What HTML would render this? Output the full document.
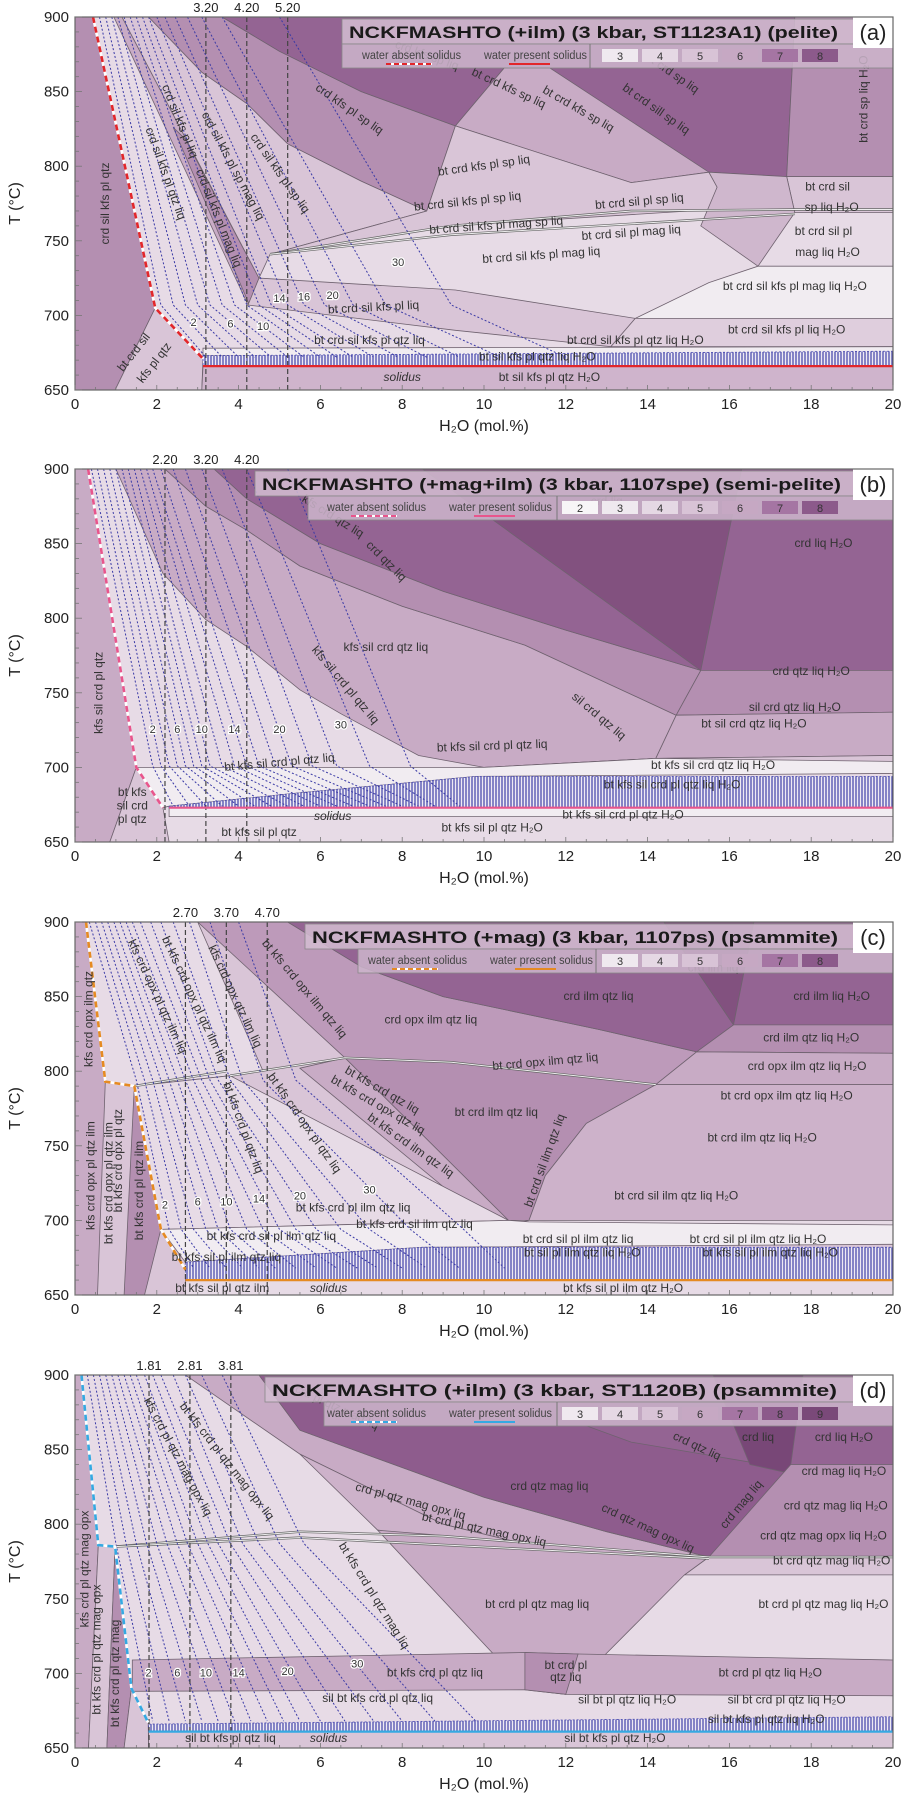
<!DOCTYPE html>
<html><head><meta charset="utf-8"><title>NCKFMASHTO pseudosections</title>
<style>
html,body{margin:0;padding:0;background:#fff;}
svg{display:block;font-family:"Liberation Sans",sans-serif;}
</style></head>
<body>
<svg id="chart" width="914" height="1799" viewBox="0 0 914 1799" xmlns="http://www.w3.org/2000/svg">
<defs>
<pattern id="hatch" width="3" height="4" patternUnits="userSpaceOnUse"><rect width="3" height="4" fill="#eeeaf3"/><line x1="1" y1="0" x2="1" y2="4" stroke="#3f3fa8" stroke-width="1.2"/></pattern>
</defs>
</svg>
<script>
const W='#f1ecf1',V='#e7dbe6',L='#d9c5d7',L2='#dfcedd',M='#c8abc5',MD='#b48fb1',D='#946493',DD='#82517f',DD2='#784777';
const X0=75,XS=40.9,PH=373;
const panelTops=[17,469,922,1375];

/* ---------- panel (a) data ---------- */
const regionsA=[
 [MD,[[0,900],[0.44,900],[1.96,705],[0.98,650],[0,650]]],
 [L,[[0.98,650],[1.96,705],[3.13,671],[3.1,650]]],
 [M,[[0.95,900],[1.15,900],[4.5,725],[4.23,707]]],
 [MD,[[2.4,826],[2.7,818],[4.5,725],[4.25,708]]],
 [L,[[1.15,900],[1.8,900],[3.1,863],[4.2,842],[5.2,815],[7,790],[8.6,770],[4.77,741],[4.5,725]]],
 [MD,[[1.8,900],[3.6,900],[5,877],[7,850],[9.3,827],[8.6,770],[7,790],[5.2,815],[4.2,842],[3.1,863]]],
 [D,[[3.6,900],[17.6,900],[17.4,793],[15.5,796],[10.5,866],[9.3,827],[7,850],[5,877]]],
 [M,[[9.3,827],[10.5,866],[11.6,866],[15.5,796],[13.6,789]]],
 [MD,[[17.6,900],[20,900],[20,793],[17.4,793]]],
 [L,[[17.4,793],[20,793],[20,769],[17.6,769]]],
 [L,[[4.77,741],[8.6,770],[9.3,827],[13.6,789],[15.5,796],[15.7,786],[15.6,771],[9.2,760]]],
 ['#cfb7cd',[[15.5,796],[17.4,793],[17.6,769],[16.7,733],[15.3,760],[15.7,786]]],
 [W,[[13.7,698],[20,698],[20,733],[16.7,733],[15.5,722]]],
 [L,[[4.23,707],[4.5,725],[9.3,717],[13.7,698],[13.1,679],[9.3,690]]],
 [L2,[[13.7,698],[20,698],[20,679],[13.1,679]]],
 [W,[[3.13,678],[20,679],[20,673],[3.13,673]]],
 ['#cfb4cc',[[3.1,650],[20,650],[20,666],[3.13,666]]]
];
const hatchA=[[[3.13,673],[20,676],[20,666],[3.13,666]]];
const linesA=[[[4.77,741],[9.2,760],[13.6,770],[17.6,771],[20,771]],[[4.77,741],[9.2,754],[17.6,768]]];
const absentA=[[0.44,900],[1.96,705],[3.13,671]];
const presentA=[[3.13,666],[20,666]];
const isoTA=[900,707,672];
const isoXA=[[0.6,2.1,3.2],[0.75,2.4,3.6],[0.9,2.7,4.0],[1.05,3.0,4.4],[1.2,3.3,4.8],[1.35,3.6,5.2],[1.5,3.9,5.6],[1.65,4.2,6.0],[1.8,4.5,6.4],[2.0,4.8,6.8],[2.2,5.2,7.3],[2.45,5.6,7.9],[2.75,6.1,8.6],[3.1,6.8,9.4],[3.6,7.6,10.4],[5.0,9.2,12]];
const vlinesA=['3.20','4.20','5.20'];
const isoLabelsA=[['2',2.9,695],['6',3.8,694],['10',4.6,692],['14',5.0,711],['16',5.6,712],['20',6.3,713],['30',7.9,735]];
const labelsA=[
 ['crd sil kfs pl qtz',0.75,775,-90],['bt crd sil',1.45,675,-52],['kfs pl qtz',1.95,668,-52],
 ['crd sil kfs pl qtz liq',2.2,795,70],['crd sil kfs pl liq',2.55,830,68],['crd sil kfs pl mag liq',3.5,765,68],
 ['crd sil kfs pl sp mag liq',3.85,800,62],['crd sil kfs pl sp liq',5.0,795,55],['crd kfs pl sp liq',6.7,838,35],
 ['crd kfs sp liq',8.6,874,20],['bt crd kfs sp liq',10.6,852,25],['bt crd kfs sp liq',12.3,838,30],
 ['bt crd sp liq',14.6,862,35],['bt crd sill sp liq',14.2,838,35],['bt crd sp liq H₂O',19.3,845,-90],
 ['bt crd kfs pl sp liq',10.0,800,-8],['bt crd sil kfs pl sp liq',9.6,776,-6],['bt crd sil pl sp liq',13.8,776,-5],
 ['bt crd sil kfs pl mag sp liq',10.3,760,-4],['bt crd sil pl mag liq',13.6,755,-4],['bt crd sil kfs pl mag liq',11.4,740,-4],
 ['bt crd sil',18.4,786,0],['sp liq H₂O',18.5,772,0],['bt crd sil pl',18.3,756,0],['mag liq H₂O',18.4,742,0],
 ['bt crd sil kfs pl mag liq H₂O',17.6,719,0],['bt crd sil kfs pl liq',7.3,705,-3],['bt crd sil kfs pl liq H₂O',17.4,690,0],
 ['bt crd sil kfs pl qtz liq H₂O',13.7,683,0],['bt crd sil kfs pl qtz liq',7.2,683,0],['bt sil kfs pl qtz liq H₂O',11.3,672,0],
 ['bt sil kfs pl qtz H₂O',11.6,658,0]
];
const solidusLabA=[8.0,658];

/* ---------- panel (b) data ---------- */
const regionsB=[
 [M,[[0,900],[0.32,900],[1.5,700],[0.85,650],[0,650]]],
 [L,[[0.85,650],[1.5,700],[2.15,673],[2.3,650]]],
 [M,[[1.0,900],[2.2,900],[3.2,875],[4.2,859],[5.5,835],[8,808],[11,782],[14.7,735],[14.2,706],[10,700],[8.4,708],[6.5,736],[5.5,752],[4.2,781],[3.2,799],[2.15,830]]],
 [MD,[[2.2,900],[3.4,900],[4.2,880],[6,850],[9,818],[12,792],[15.3,765],[14.7,735],[11,782],[8,808],[5.5,835],[4.2,859],[3.2,875]]],
 [D,[[3.4,900],[20,900],[20,765],[15.3,765],[12,792],[9,818],[6,850],[4.2,880]]],
 [DD,[[8.5,900],[16.3,900],[15.3,765]]],
 [MD,[[15.3,765],[20,765],[20,737],[14.7,735]]],
 [M,[[14.7,735],[20,737],[20,708],[14.2,706]]],
 [L,[[14.2,706],[20,708],[20,704],[10,700]]],
 [W,[[1.5,700],[10,700],[14.2,706],[20,704],[20,696],[9.8,694],[5.5,683],[2.3,674],[2.15,673]]],
 [W,[[2.3,673],[20,673],[20,667],[2.3,667]]]
];
const hatchB=[[[2.3,674],[5.5,683],[9.8,694],[20,694],[20,673],[2.3,673]]];
const linesB=[];
const absentB=[[0.32,900],[1.5,700],[2.15,673]];
const presentB=[[2.3,673],[20,673]];
const isoTB=[900,701,674];
const isoXB=[[0.4,1.9,2.4],[0.55,2.1,2.8],[0.7,2.3,3.2],[0.85,2.5,3.6],[1.0,2.7,4.0],[1.15,2.9,4.4],[1.3,3.1,4.8],[1.45,3.3,5.2],[1.6,3.6,5.6],[1.75,3.9,6.0],[1.9,4.2,6.4],[2.1,4.5,6.8],[2.4,4.9,7.2],[2.7,5.3,7.6],[3.1,5.8,8.0],[3.6,6.4,8.4],[4.2,7.2,8.8],[5.2,8.2,9.4]];
const vlinesB=['2.20','3.20','4.20'];
const isoLabelsB=[['2',1.9,725],['6',2.5,725],['10',3.1,725],['14',3.9,725],['20',5.0,725],['30',6.5,728]];
const labelsB=[
 ['kfs sil crd pl qtz',0.6,750,-90],['bt kfs',1.4,683,0],['sil crd',1.4,674,0],['pl qtz',1.4,665,0],
 ['kfs crd qtz liq',6.3,868,32],['crd qtz liq',7.6,838,45],['crd liq',13.0,878,0],['crd liq H₂O',18.3,850,0],
 ['kfs sil crd qtz liq',7.6,780,0],['kfs sil crd pl qtz liq',6.6,755,50],['sil crd qtz liq',12.8,734,40],
 ['crd qtz liq H₂O',18.0,764,0],['sil crd qtz liq H₂O',17.6,740,0],['bt sil crd qtz liq H₂O',16.6,729,0],
 ['bt kfs sil crd pl qtz liq',10.2,714,-2],['bt kfs sil crd pl qtz liq',5.0,703,-5],['bt kfs sil crd qtz liq H₂O',15.6,701,0],
 ['bt kfs sil crd pl qtz liq H₂O',14.6,688,0],['bt kfs sil crd pl qtz H₂O',13.4,668,0],['bt kfs sil pl qtz H₂O',10.2,659,0],
 ['bt kfs sil pl qtz',4.5,656,0]
];
const solidusLabB=[6.3,667];

/* ---------- panel (c) data ---------- */
const regionsC=[
 [M,[[0,900],[0.27,900],[0.74,793],[0.55,650],[0,650]]],
 [MD,[[1.45,790],[2.1,694],[1.7,650],[1.2,650]]],
 [V,[[0.27,900],[3.0,900],[4.6,800],[3.79,797],[1.45,790],[0.74,793]]],
 ['#bd9aba',[[3.0,900],[5.2,900],[7,870],[9,850],[12.8,828],[15.2,813],[14.2,791],[9.2,806],[6.6,809]]],
 [D,[[5.2,900],[14.4,900],[16.1,831],[15.2,813],[12.8,828],[9,850],[7,870]]],
 [DD,[[14.4,900],[16.6,900],[16.1,831]]],
 [D,[[16.6,900],[20,900],[20,831],[16.1,831]]],
 [MD,[[16.1,831],[20,831],[20,812],[15.2,813]]],
 [M,[[15.2,813],[20,812],[20,791],[14.2,791]]],
 [MD,[[6.6,809],[9.2,806],[14.2,791],[12.5,765],[11.5,730],[11.1,700],[10.6,700]]],
 ['#cdb2ca',[[14.2,791],[20,791],[20,700],[11.1,700],[11.5,730],[12.5,765]]],
 [M,[[5.5,802],[6.6,809],[10.6,700],[10.0,700]]],
 [V,[[1.45,790],[3.79,797],[10.6,700],[2.1,694]]],
 [V,[[11.1,700],[20,700],[20,697],[10.6,697]]],
 [W,[[2.1,694],[10.6,700],[11.1,699],[20,697],[20,684],[8.5,682],[2.7,672]]],
 [V,[[2.7,660],[20,660],[20,650],[2.7,650]]]
];
const hatchC=[[[2.7,672],[8.5,682],[20,682],[20,660],[2.7,660]]];
const linesC=[[[3.79,797],[6.6,809],[9.2,806],[14.2,791]],[[1.45,790],[3.7,800]]];
const absentC=[[0.27,900],[0.74,793],[1.45,790],[2.1,694],[2.7,667]];
const presentC=[[2.7,660],[20,660]];
const isoTC=[900,794,694,668];
const isoXC=[[0.35,1.5,2.3,2.9],[0.5,1.7,2.6,3.3],[0.65,1.9,2.9,3.7],[0.8,2.1,3.2,4.1],[0.95,2.3,3.5,4.5],[1.1,2.5,3.8,4.9],[1.25,2.7,4.2,5.4],[1.4,2.9,4.6,5.9],[1.6,3.1,5.0,6.4],[1.85,3.3,5.4,6.9],[2.1,3.5,5.9,7.4],[2.4,3.8,6.5,8.0],[2.8,4.1,7.2,8.6],[3.3,4.6,8.2,9.4],[4.0,5.4,9.5,10.5]];
const vlinesC=['2.70','3.70','4.70'];
const isoLabelsC=[['2',2.2,710],['6',3.0,712],['10',3.7,712],['14',4.5,714],['20',5.5,716],['30',7.2,720]];
const labelsC=[
 ['kfs crd opx ilm qtz',0.35,835,-90],['kfs crd opx pl qtz ilm',0.4,730,-90],['bt kfs crd opx pl qtz ilm',0.84,725,-90],
 ['bt kfs crd opx pl qtz',1.07,740,-90],['bt kfs crd pl qtz ilm',1.58,720,-90],
 ['kfs crd opx pl qtz ilm liq',2.0,850,65],['bt kfs crd opx pl qtz ilm liq',2.9,848,65],['kfs crd opx qtz ilm liq',3.9,850,65],
 ['bt kfs crd opx ilm qtz liq',5.6,855,50],['crd opx ilm qtz liq',8.7,834,0],['crd ilm qtz liq',12.8,850,0],
 ['crd ilm liq',15.6,869,0],['crd ilm liq H₂O',18.5,850,0],['crd ilm qtz liq H₂O',18.0,822,0],
 ['crd opx ilm qtz liq H₂O',17.9,803,0],['bt crd opx ilm qtz liq',11.5,806,-5],['bt crd opx ilm qtz liq H₂O',17.4,783,0],
 ['bt crd ilm qtz liq',10.3,772,0],['bt crd ilm qtz liq H₂O',16.8,755,0],['bt crd sil ilm qtz liq',11.5,740,-70],
 ['bt crd sil ilm qtz liq H₂O',14.7,716,0],['bt kfs crd qtz liq',7.5,787,30],['bt kfs crd opx qtz liq',7.4,777,30],
 ['bt kfs crd opx pl qtz liq',5.6,765,55],['bt kfs crd pl qtz liq',4.1,762,70],['bt kfs crd ilm qtz liq',8.2,750,35],
 ['bt kfs crd pl ilm qtz liq',6.8,708,0],['bt kfs crd sil ilm qtz liq',8.3,697,0],['bt kfs crd sil pl ilm qtz liq',4.8,689,0],
 ['bt kfs sil pl ilm qtz liq',3.7,675,0],['bt kfs sil pl qtz ilm',3.6,654,0],['bt crd sil pl ilm qtz liq',12.3,687,0],
 ['bt crd sil pl ilm qtz liq H₂O',16.7,687,0],['bt sil pl ilm qtz liq H₂O',12.4,678,0],['bt kfs sil pl ilm qtz liq H₂O',17.0,678,0],
 ['bt kfs sil pl ilm qtz H₂O',13.4,654,0]
];
const solidusLabC=[6.2,654];

/* ---------- panel (d) data ---------- */
const regionsD=[
 [M,[[0,900],[0.16,900],[0.57,786],[0.33,650],[0,650]]],
 [L,[[0.57,786],[0.98,785],[0.78,650],[0.33,650]]],
 [MD,[[0.98,785],[1.38,690],[1.2,650],[0.78,650]]],
 [L,[[1.38,690],[1.79,667],[1.8,650],[1.2,650]]],
 [M,[[2.7,900],[4.5,900],[5.5,863],[7,848],[10,818],[13,795],[15.5,778],[14.9,766],[12,780],[9,800],[5.5,847]]],
 ['#cdb2ca',[[5.5,847],[9,800],[12,780],[14.9,766],[7.4,796]]],
 ['#8e5c8d',[[4.5,900],[17.5,900],[17.5,834],[15.5,778],[13,795],[10,818],[7,848],[5.5,863]]],
 [D,[[12.5,866],[17.5,866],[17.5,837],[13.6,855]]],
 [DD2,[[15.6,900],[17.8,900],[17.5,834],[16.5,840]]],
 [D,[[17.8,900],[20,900],[20,840],[17.5,840]]],
 [MD,[[17.5,840],[20,840],[20,778],[15.5,778]]],
 [L,[[15.5,778],[20,778],[20,766],[14.9,766]]],
 [M,[[7.4,796],[15.5,778],[14.9,766],[12.0,686],[11.05,689]]],
 [M,[[1.4,709],[11,714],[12.3,713],[20,709],[20,685],[12,686],[11,689],[1.4,688]]],
 [MD,[[11,714],[12.3,713],[12,686],[11,689]]],
 [L,[[1.8,661],[20,661],[20,650],[1.8,650]]]
];
const hatchD=[[[1.8,666],[20,671],[20,661],[1.8,661]]];
const linesD=[[[0.57,786],[0.98,785],[5.5,795],[9,792],[15.5,778],[20,778]],[[0.98,785],[5.5,791],[15.5,777]]];
const absentD=[[0.16,900],[0.57,786],[0.98,785],[1.38,690],[1.79,667]];
const presentD=[[1.8,661],[20,661]];
const isoTD=[900,787,668];
const isoXD=[[0.3,1.0,1.9],[0.45,1.25,2.3],[0.6,1.5,2.7],[0.75,1.75,3.1],[0.9,2.0,3.5],[1.05,2.25,3.9],[1.2,2.5,4.3],[1.35,2.75,4.7],[1.5,3.0,5.1],[1.7,3.25,5.5],[1.9,3.5,6.0],[2.1,3.8,6.6],[2.4,4.1,7.3],[2.7,4.5,8.0],[3.1,5.0,8.8],[3.6,5.6,9.8]];
const vlinesD=['1.81','2.81','3.81'];
const isoLabelsD=[['2',1.8,700],['6',2.5,700],['10',3.2,700],['14',4.0,700],['20',5.2,701],['30',6.9,706]];
const labelsD=[
 ['kfs crd pl qtz mag opx',0.25,770,-90],['bt kfs crd pl qtz mag opx',0.55,716,-90],['bt kfs crd pl qtz mag',1.0,700,-90],
 ['kfs crd pl qtz mag opx liq',2.5,845,62],['bt kfs crd pl qtz mag opx liq',3.7,842,52],['crd pl qtz mag liq',6.4,878,25],
 ['crd pl qtz mag opx liq',8.2,815,15],['bt crd pl qtz mag opx liq',10.0,796,12],['crd qtz mag liq',11.6,825,0],
 ['crd qtz liq',15.2,852,25],['crd liq',16.7,858,0],['crd liq H₂O',18.8,858,0],['crd mag liq H₂O',18.8,835,0],
 ['crd mag liq',16.3,813,-50],['crd qtz mag opx liq',14.0,797,25],['crd qtz mag liq H₂O',18.6,812,0],
 ['crd qtz mag opx liq H₂O',18.3,792,0],['bt crd qtz mag liq H₂O',18.5,775,0],['bt crd pl qtz mag liq',11.3,746,0],
 ['bt crd pl qtz mag liq H₂O',18.3,746,0],['bt kfs crd pl qtz mag liq',7.3,752,58],['bt kfs crd pl qtz liq',8.8,700,0],
 ['bt crd pl',12.0,705,0],['qtz liq',12.0,697,0],['bt crd pl qtz liq H₂O',17.0,700,0],['sil bt kfs crd pl qtz liq',7.4,683,0],
 ['sil bt pl qtz liq H₂O',13.5,682,0],['sil bt crd pl qtz liq H₂O',17.4,682,0],['sil bt kfs pl qtz liq H₂O',16.9,669,0],
 ['sil bt kfs pl qtz H₂O',13.2,656,0],['sil bt kfs pl qtz liq',3.8,656,0]
];
const solidusLabD=[6.2,656];

/* ---------- variance legend ---------- */
const varColors={2:'#f7f5f7',3:'#efe9ef',4:'#e5d8e4',5:'#d8c3d6',6:'#c6a8c3',7:'#a575a3',8:'#8c5a8b',9:'#7a4979'};
const legendCfg=[
 {title:'NCKFMASHTO (+ilm) (3 kbar, ST1123A1)   (pelite)',tx:342,tEnd:838,lx:342,abs:362,pres:484,sep:590,sw0:602,vars:[3,4,5,6,7,8],col:'#e2262a',letter:'(a)'},
 {title:'NCKFMASHTO (+mag+ilm)  (3 kbar, 1107spe)  (semi-pelite)',tx:255,tEnd:841,lx:308,abs:327,pres:449,sep:557,sw0:562,vars:[2,3,4,5,6,7,8],col:'#e8558c',letter:'(b)'},
 {title:'NCKFMASHTO (+mag)   (3 kbar, 1107ps)   (psammite)',tx:305,tEnd:838,lx:358,abs:368,pres:490,sep:596,sw0:602,vars:[3,4,5,6,7,8],col:'#e58a22',letter:'(c)'},
 {title:'NCKFMASHTO (+ilm)  (3 kbar, ST1120B)   (psammite)',tx:265,tEnd:837,lx:324,abs:327,pres:449,sep:557,sw0:562,vars:[3,4,5,6,7,8,9],col:'#35a9e2',letter:'(d)'}
];

const xTicks=[0,2,4,6,8,10,12,14,16,18,20];
const yTicks=[650,700,750,800,850,900];

const svg=document.getElementById('chart');
const NS='http://www.w3.org/2000/svg';
function mk(tag,attrs,parent){const e=document.createElementNS(NS,tag);for(const k in attrs)e.setAttribute(k,attrs[k]);(parent||svg).appendChild(e);return e;}
const xs=x=>X0+x*XS;
function pts(arr,ys){return arr.map(p=>xs(p[0]).toFixed(1)+','+ys(p[1]).toFixed(1)).join(' ');}

const panels=[
 [regionsA,hatchA,linesA,absentA,presentA,isoTA,isoXA,vlinesA,isoLabelsA,labelsA,solidusLabA],
 [regionsB,hatchB,linesB,absentB,presentB,isoTB,isoXB,vlinesB,isoLabelsB,labelsB,solidusLabB],
 [regionsC,hatchC,linesC,absentC,presentC,isoTC,isoXC,vlinesC,isoLabelsC,labelsC,solidusLabC],
 [regionsD,hatchD,linesD,absentD,presentD,isoTD,isoXD,vlinesD,isoLabelsD,labelsD,solidusLabD]
];

panels.forEach((P,pi)=>{
 const top=panelTops[pi];
 const ys=T=>top+(900-T)*PH/250;
 const [regions,hatch,lines,absent,present,isoT,isoX,vlines,isoLabels,labels,solLab]=P;
 const cfg=legendCfg[pi];
 const cp=mk('clipPath',{id:'clip'+pi});
 mk('rect',{x:X0,y:top,width:20*XS,height:PH},cp);
 const g=mk('g',{'clip-path':'url(#clip'+pi+')'});
 
 
 let e=mk('rect',{x:X0,y:top,width:20*XS,height:PH,fill:(pi===2?L:V)},g);
 
 
 regions.forEach(r=>{
  const el=mk('polygon',{points:pts(r[1],ys),fill:r[0],stroke:'#6f626f','stroke-width':0.8},g);
  
  
 });
 hatch.forEach(h=>{
  const el=mk('polygon',{points:pts(h,ys),fill:'url(#hatch)',stroke:'#4a4ab0','stroke-width':0.8,'stroke-dasharray':'2,2'},g);
  
  
 });
 lines.forEach(l=>{
  const el=mk('polyline',{points:pts(l,ys),fill:'none',stroke:'#666','stroke-width':2.4},g);
  
  
  const el2=mk('polyline',{points:pts(l,ys),fill:'none',stroke:'#eee','stroke-width':1},g);
  
  
 });
 isoX.forEach(row=>{
  const p=row.map((x,i)=>[x,isoT[i]]);
  const el=mk('polyline',{points:pts(p,ys),fill:'none',stroke:'#3a3aa6','stroke-width':1,'stroke-dasharray':'2,2'},g);
  
  
 });
 vlines.forEach(v=>{
  const x=parseFloat(v);
  const el=mk('line',{x1:xs(x),x2:xs(x),y1:top,y2:top+PH,stroke:'#444','stroke-width':1.2,'stroke-dasharray':'5,3'},g);
  
  
 });
 let el=mk('polyline',{points:pts(absent,ys),fill:'none',stroke:'#fff','stroke-width':2.6},g);
 
 
 el=mk('polyline',{points:pts(absent,ys),fill:'none',stroke:cfg.col,'stroke-width':2.6,'stroke-dasharray':'6,4'},g);
 
 
 el=mk('polyline',{points:pts(present,ys),fill:'none',stroke:cfg.col,'stroke-width':2.2},g);
 
 
 labels.forEach(lb=>{
  const x=xs(lb[1]),y=ys(lb[2]);
  const t=mk('text',{x:x,y:y,'font-size':12,fill:'#333','text-anchor':'middle','dominant-baseline':'middle',transform:'rotate('+lb[3]+' '+x+' '+y+')'},g);
  t.textContent=lb[0];
  
  
 });
 isoLabels.forEach(lb=>{
  const x=xs(lb[1]),y=ys(lb[2]);
  const t=mk('text',{x:x,y:y,'font-size':11,fill:'#333',stroke:'#fff','stroke-width':2.5,'paint-order':'stroke','text-anchor':'middle','dominant-baseline':'middle'},g);
  t.textContent=lb[0];
  
  
 });
 let st=mk('text',{x:xs(solLab[0]),y:ys(solLab[1]),'font-size':12,'font-style':'italic',fill:'#333','text-anchor':'middle','dominant-baseline':'middle'},g);
 st.textContent='solidus';
 
 

 const lg=mk('g',{});
 
 
 el=mk('rect',{x:cfg.tx,y:top+2,width:893-cfg.tx,height:25,fill:'#d3bdd1','fill-opacity':0.85,stroke:'#888','stroke-width':0.8},lg);
 
 
 el=mk('rect',{x:cfg.lx,y:top+27,width:893-cfg.lx,height:24,fill:'#cdb5cb','fill-opacity':0.85,stroke:'#888','stroke-width':0.8},lg);
 
 
 el=mk('text',{x:cfg.tx+7,y:top+21,'font-size':17,'font-weight':'bold',fill:'#1a1a1a',textLength:cfg.tEnd-cfg.tx-7,lengthAdjust:'spacingAndGlyphs'},lg);
 el.textContent=cfg.title;
 
 
 el=mk('rect',{x:853,y:top,width:40,height:31,fill:'#fff'},lg);
 
 
 el=mk('text',{x:873,y:top+23,'font-size':22,fill:'#222','text-anchor':'middle'},lg);
 el.textContent=cfg.letter;
 
 
 el=mk('text',{x:cfg.abs,y:top+42,'font-size':11.5,fill:'#444',textLength:99,lengthAdjust:'spacingAndGlyphs'},lg);
 el.textContent='water absent solidus';
 
 
 el=mk('line',{x1:cfg.abs+24,x2:cfg.abs+70,y1:top+47,y2:top+47,stroke:'#fff','stroke-width':2},lg);
 
 
 el=mk('line',{x1:cfg.abs+24,x2:cfg.abs+70,y1:top+47,y2:top+47,stroke:cfg.col,'stroke-width':2,'stroke-dasharray':'5,3'},lg);
 
 
 el=mk('text',{x:cfg.pres,y:top+42,'font-size':11.5,fill:'#444',textLength:103,lengthAdjust:'spacingAndGlyphs'},lg);
 el.textContent='water present solidus';
 
 
 el=mk('line',{x1:cfg.pres+25,x2:cfg.pres+66,y1:top+47,y2:top+47,stroke:cfg.col,'stroke-width':2},lg);
 
 
 el=mk('line',{x1:cfg.sep,x2:cfg.sep,y1:top+27,y2:top+51,stroke:'#777','stroke-width':1},lg);
 
 
 cfg.vars.forEach((v,i)=>{
  const sx=cfg.sw0+i*40;
  const r=mk('rect',{x:sx,y:top+32,width:36,height:13,fill:varColors[v]},lg);
  
  
  const t=mk('text',{x:sx+18,y:top+43,'font-size':11,fill:'#333','text-anchor':'middle'},lg);
  t.textContent=String(v);
  
  
 });

 el=mk('rect',{x:X0,y:top,width:20*XS,height:PH,fill:'none',stroke:'#666','stroke-width':1.2});
 
 
 for(let x=0;x<=20;x+=0.5){
  el=mk('line',{x1:xs(x),x2:xs(x),y1:top+PH,y2:top+PH-(x%2===0?5:3),stroke:'#777','stroke-width':0.8});
  
  
 }
 for(let T=650;T<=900;T+=10){
  el=mk('line',{x1:X0,x2:X0+(T%50===0?7:4),y1:ys(T),y2:ys(T),stroke:'#777','stroke-width':0.8});
  
  
 }
 xTicks.forEach(v=>{
  const t=mk('text',{x:xs(v),y:top+PH+19,'font-size':15,fill:'#222','text-anchor':'middle'});
  t.textContent=String(v);
  
  
 });
 yTicks.forEach(v=>{
  const t=mk('text',{x:69,y:ys(v)+5,'font-size':15,fill:'#222','text-anchor':'end'});
  t.textContent=String(v);
  
  
 });
 vlines.forEach(v=>{
  const t=mk('text',{x:xs(parseFloat(v)),y:top-5,'font-size':13,fill:'#222','text-anchor':'middle'});
  t.textContent=v;
  
  
 });
 let yt=mk('text',{x:20,y:top+PH/2,'font-size':16,fill:'#222','text-anchor':'middle',transform:'rotate(-90 20 '+(top+PH/2)+')'});
 yt.textContent='T (°C)';
 
 
 let xt=mk('text',{x:484,y:top+PH+41,'font-size':16,fill:'#222','text-anchor':'middle'});
 xt.textContent='H₂O (mol.%)';
 
 
});
</script>
</body></html>
